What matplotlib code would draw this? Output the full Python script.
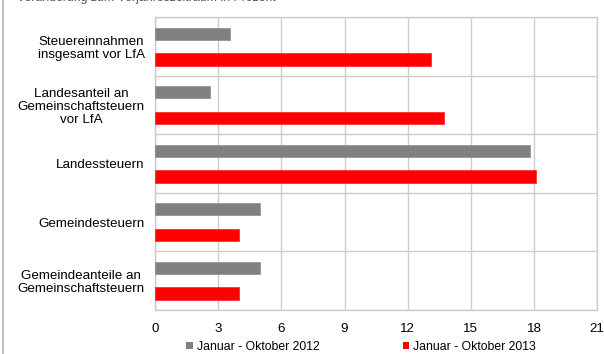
import numpy as np
import matplotlib
matplotlib.use("Agg")
import matplotlib.pyplot as plt
from matplotlib.patches import Patch
from matplotlib.lines import Line2D

categories = [
    "Steuereinnahmen\ninsgesamt vor LfA",
    "Landesanteil an\nGemeinschaftsteuern\nvor LfA",
    "Landessteuern",
    "Gemeindesteuern",
    "Gemeindeanteile an\nGemeinschaftsteuern",
]
values_2012 = [3.55, 2.6, 17.8, 5.0, 5.0]
values_2013 = [13.1, 13.7, 18.1, 4.0, 4.0]
series_names = ["Januar - Oktober 2012", "Januar - Oktober 2013"]
xticks = [0, 3, 6, 9, 12, 15, 18, 21]
title_text = "Veränderung zum Vorjahreszeitraum in Prozent"

plt.rcParams['font.family'] = ['Liberation Sans', 'DejaVu Sans']
fs_axis = 9.6
fs_leg = 8.8

fig = plt.figure(figsize=(6.04, 3.54), dpi=100)
ax = fig.add_axes([155/604, 1-310/354, (597.3-155)/604, (310-17.3)/354])

y = np.arange(len(categories))
off = 0.22
h = 0.21
ax.barh(y - off, values_2012, height=h, color='#808080', edgecolor='#8c8c8c', linewidth=0.5, zorder=3)
ax.barh(y + off, values_2013, height=h, color='#ff0000', edgecolor='#ff2020', linewidth=0.5, zorder=3)

ax.set_ylim(len(categories) - 0.5, -0.5)
ax.set_xlim(0, 21)
ax.set_xticks(xticks)
ax.set_xticklabels([str(t) for t in xticks], fontsize=fs_axis)
ax.set_yticks(y)
ax.set_yticklabels(categories, fontsize=fs_axis, multialignment='center', linespacing=1.1)
ax.set_yticks(np.arange(len(categories) + 1) - 0.5, minor=True)
ax.tick_params(axis='both', which='both', length=0)
ax.tick_params(axis='x', pad=9)
ax.tick_params(axis='y', pad=7.5)
ax.grid(axis='x', which='major', color='#cccccc', linewidth=1.0, zorder=0)
ax.grid(axis='y', which='minor', color='#cccccc', linewidth=1.0, zorder=0)
ax.set_axisbelow(True)
for s in ax.spines.values():
    s.set_color('#cccccc')
    s.set_linewidth(1.0)

handles = [Patch(facecolor='#808080', edgecolor='none'),
           Patch(facecolor='#ff0000', edgecolor='none')]
fig.legend(handles, series_names, loc='center', bbox_to_anchor=(361/604, 1-347/354),
           ncol=2, frameon=False, fontsize=fs_leg, handlelength=0.55, handleheight=0.55,
           handletextpad=0.3, columnspacing=6.8, borderaxespad=0, borderpad=0)

fig.text(17/604, 1-0.8/354, title_text, fontsize=fs_leg, color='#555555', va='baseline', ha='left')
fig.add_artist(Line2D([2.5/604, 2.5/604], [0, 1], transform=fig.transFigure, color='#c0c0c0', linewidth=1.5))

fig.savefig("out.png", dpi=100)
